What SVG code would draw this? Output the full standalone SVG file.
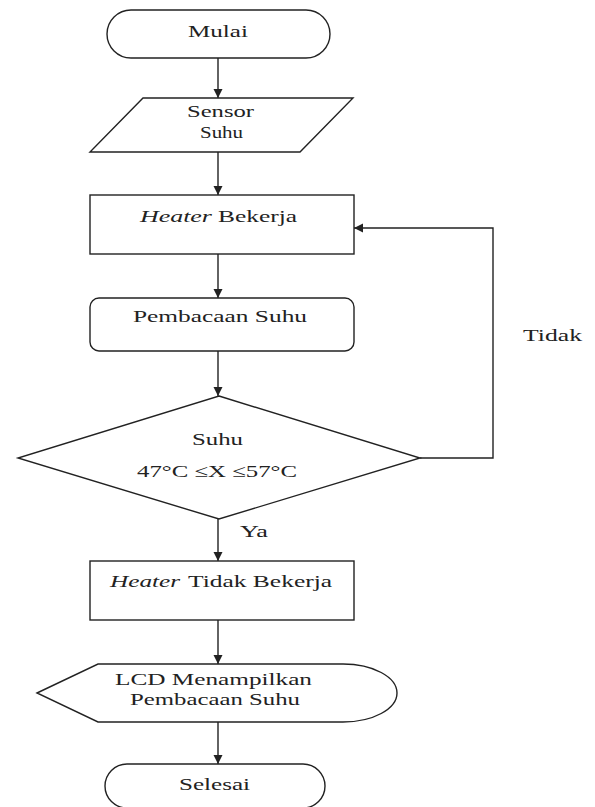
<svg xmlns="http://www.w3.org/2000/svg" width="595" height="807" viewBox="0 0 595 807">
<style>
.s{fill:#fff;stroke:#222;stroke-width:1.4}
.c{fill:none;stroke:#222;stroke-width:1.4}
text{font-family:"Liberation Serif","Times New Roman",serif;font-size:17.5px;fill:#222}
.i{font-style:italic}
</style>
<defs>
<marker id="ah" markerUnits="userSpaceOnUse" markerWidth="10" markerHeight="10" refX="9" refY="4.5" orient="auto">
<path d="M0,0 L9,4.5 L0,9 Z" fill="#222"/>
</marker>
</defs>
<rect width="595" height="807" fill="#fff"/>
<g id="connectors">
<line class="c" x1="218" y1="58" x2="218" y2="98" marker-end="url(#ah)"/>
<line class="c" x1="218" y1="152" x2="218" y2="195" marker-end="url(#ah)"/>
<line class="c" x1="218" y1="254" x2="218" y2="298" marker-end="url(#ah)"/>
<line class="c" x1="218" y1="351" x2="218" y2="396" marker-end="url(#ah)"/>
<line class="c" x1="218" y1="519" x2="218" y2="561" marker-end="url(#ah)"/>
<line class="c" x1="218" y1="620" x2="218" y2="664" marker-end="url(#ah)"/>
<line class="c" x1="218" y1="722" x2="218" y2="764" marker-end="url(#ah)"/>
<polyline class="c" points="420,458 493,458 493,228 354,228" marker-end="url(#ah)"/>
<text transform="translate(523,341) scale(1.35,1)" textLength="43.7" lengthAdjust="spacingAndGlyphs">Tidak</text>
<text transform="translate(240,537) scale(1.35,1)" textLength="20.7" lengthAdjust="spacingAndGlyphs">Ya</text>
</g>
<g id="mulai">
<rect class="s" x="107" y="10" width="223" height="48" rx="24"/>
<text transform="translate(188,37) scale(1.35,1)" textLength="44.4" lengthAdjust="spacingAndGlyphs">Mulai</text>
</g>
<g id="sensor">
<polygon class="s" points="143,98 353,98 300,152 90,152"/>
<text transform="translate(187,117) scale(1.35,1)" textLength="49.6" lengthAdjust="spacingAndGlyphs">Sensor</text>
<text transform="translate(200,138) scale(1.35,1)" textLength="31.9" lengthAdjust="spacingAndGlyphs">Suhu</text>
</g>
<g id="heater-on">
<rect class="s" x="90" y="195" width="264" height="59"/>
<text class="i" transform="translate(140,222) scale(1.35,1)" textLength="53.3" lengthAdjust="spacingAndGlyphs">Heater</text>
<text transform="translate(218,222) scale(1.35,1)" textLength="58.5" lengthAdjust="spacingAndGlyphs">Bekerja</text>
</g>
<g id="pembacaan">
<rect class="s" x="90" y="298" width="264" height="53" rx="9"/>
<text transform="translate(133,322) scale(1.35,1)" textLength="128.9" lengthAdjust="spacingAndGlyphs">Pembacaan Suhu</text>
</g>
<g id="decision">
<polygon class="s" points="219,396 420,458 219,519 18,458"/>
<text transform="translate(192,445) scale(1.35,1)" textLength="37.8" lengthAdjust="spacingAndGlyphs">Suhu</text>
<text transform="translate(137,477) scale(1.35,1)" textLength="118.5" lengthAdjust="spacingAndGlyphs">47°C ≤X ≤57°C</text>
</g>
<g id="heater-off">
<rect class="s" x="90" y="561" width="264" height="59"/>
<text class="i" transform="translate(110,587) scale(1.35,1)" textLength="51.9" lengthAdjust="spacingAndGlyphs">Heater</text>
<text transform="translate(188,587) scale(1.35,1)" textLength="106.7" lengthAdjust="spacingAndGlyphs">Tidak Bekerja</text>
</g>
<g id="display">
<path class="s" d="M37,693 L98,664 L343,664 A54,29 0 0 1 343,722 L98,722 Z"/>
<text transform="translate(115,685) scale(1.35,1)" textLength="145.9" lengthAdjust="spacingAndGlyphs">LCD Menampilkan</text>
<text transform="translate(130,705) scale(1.35,1)" textLength="125.9" lengthAdjust="spacingAndGlyphs">Pembacaan Suhu</text>
</g>
<g id="selesai">
<rect class="s" x="105" y="764" width="220" height="44" rx="22"/>
<text transform="translate(179,790) scale(1.35,1)" textLength="52.6" lengthAdjust="spacingAndGlyphs">Selesai</text>
</g>
</svg>
